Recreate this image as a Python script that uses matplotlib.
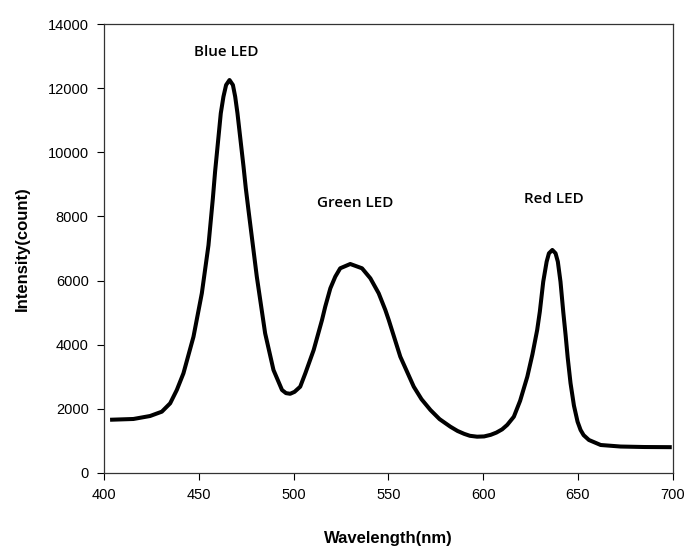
import matplotlib
matplotlib.use("Agg")
import matplotlib.pyplot as plt

# spectrum
wavelength = [403.2, 415.5, 424.3, 430.5, 434.9, 438.4, 441.9, 447.2, 451.6, 455.1, 457.4,
              458.6, 460.4, 461.6, 463.0, 464.4, 466.2, 468.0, 469.2, 470.4, 471.8, 473.6,
              474.8, 476.2, 480.6, 485.0, 489.4, 493.9, 496.0, 498.2, 500.5, 503.5, 506.2,
              510.6, 515.0, 516.7, 519.4, 522.0, 524.6, 529.9, 536.1, 540.5, 544.9, 548.4,
              550.2, 556.3, 563.4, 567.5, 572.2, 577.0, 582.7, 586.5, 590.0, 593.0, 596.8,
              600.5, 604.0, 607.0, 610.0, 612.7, 616.2, 619.5, 623.3, 626.0, 628.5, 629.9,
              631.7, 633.5, 634.7, 636.5, 638.2, 639.4, 640.8, 642.3, 643.5, 644.6, 646.1,
              647.9, 649.8, 651.4, 653.0, 655.8, 662.0, 672.5, 685.0, 699.5]
intensity = [1660, 1684, 1777, 1912, 2173, 2588, 3108, 4250, 5603, 7100, 8550,
             9400, 10487, 11216, 11734, 12098, 12254, 12098, 11734, 11216, 10487, 9551,
             8877, 8200, 6122, 4355, 3212, 2588, 2490, 2470, 2530, 2691, 3108,
             3835, 4771, 5186, 5759, 6122, 6383, 6517, 6383, 6071, 5603, 5083,
             4771, 3627, 2691, 2300, 1964, 1680, 1444, 1310, 1220, 1160, 1132,
             1140, 1190, 1260, 1360, 1500, 1755, 2250, 3003, 3700, 4459, 5030,
             5966, 6590, 6850, 6954, 6850, 6590, 5966, 5000, 4300, 3600, 2800,
             2100, 1600, 1341, 1180, 1029, 873, 825, 810, 805]

peak_labels = ["Blue LED", "Green LED", "Red LED"]
label_x = [464.4, 532.6, 637.3]
label_y = [13128, 8420, 8535]

x_ticks = [400, 450, 500, 550, 600, 650, 700]
y_ticks = [0, 2000, 4000, 6000, 8000, 10000, 12000, 14000]

fig = plt.figure(figsize=(6.87, 5.47), dpi=100)
ax = fig.add_axes([0.1514, 0.1353, 0.8278, 0.8208])

ax.plot(wavelength, intensity, color="black", lw=2.9,
        solid_joinstyle="round", solid_capstyle="butt")

for t, x, y in zip(peak_labels, label_x, label_y):
    ax.text(x, y, t, ha="center", va="center", fontsize=11, fontweight="semibold",
            family="Open Sans")

ax.set_xlim(400, 700)
ax.set_ylim(0, 14000)
ax.set_xticks(x_ticks)
ax.set_yticks(y_ticks)
ax.tick_params(direction="out", length=5, width=0.8, labelsize=10.5, pad=6)
for lab in ax.get_xticklabels() + ax.get_yticklabels():
    lab.set_family("Liberation Sans")
for s in ax.spines.values():
    s.set_linewidth(0.9)
    s.set_color("#333333")

ax.set_xlabel("Wavelength(nm)", fontsize=12, fontweight="bold", family="Liberation Sans", labelpad=21)
ax.set_ylabel("Intensity(count)", fontsize=12, fontweight="bold", family="Liberation Sans", labelpad=13)

fig.savefig("out.png", dpi=100)
